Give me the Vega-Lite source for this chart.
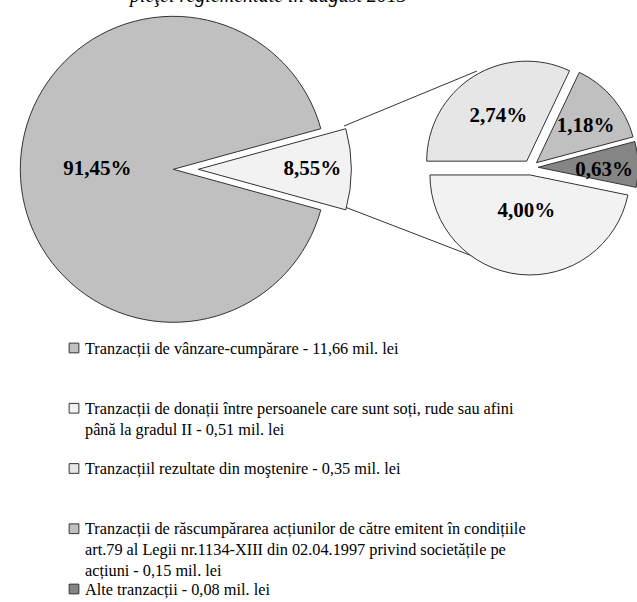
{
  "$schema": "https://vega.github.io/schema/vega-lite/v6.json",
  "width": 637,
  "height": 602,
  "padding": 0,
  "autosize": "none",
  "background": "white",
  "config": {"view": {"stroke": null}},
  "title": {
    "text": "pieţei reglementate în august 2013",
    "font": "Liberation Serif",
    "fontSize": 20,
    "fontStyle": "italic",
    "fontWeight": "normal",
    "color": "#000000",
    "anchor": "middle",
    "frame": "group",
    "dx": -50,
    "dy": 22,
    "offset": 0,
    "baseline": "alphabetic"
  },
  "data": {
    "values": [
      {"pie": "main", "slice": "vanzare", "value": 91.45, "label": "91,45%"},
      {"pie": "main", "slice": "rest", "value": 8.55, "label": "8,55%"},
      {"pie": "detail", "slice": "donatii", "value": 4.00, "label": "4,00%"},
      {"pie": "detail", "slice": "mostenire", "value": 2.74, "label": "2,74%"},
      {"pie": "detail", "slice": "rascumparare", "value": 1.18, "label": "1,18%"},
      {"pie": "detail", "slice": "alte", "value": 0.63, "label": "0,63%"}
    ]
  },
  "layer": [
    {
      "data": {"values": [{"connector": "upper"}]},
      "mark": {"type": "rule", "stroke": "#333333", "strokeWidth": 1},
      "encoding": {"x": {"value": 344}, "y": {"value": 126}, "x2": {"value": 477}, "y2": {"value": 71}}
    },
    {
      "data": {"values": [{"connector": "lower"}]},
      "mark": {"type": "rule", "stroke": "#333333", "strokeWidth": 1},
      "encoding": {"x": {"value": 345}, "y": {"value": 207}, "x2": {"value": 480}, "y2": {"value": 259}}
    },
    {
      "transform": [{"filter": "datum.pie == 'main'"}],
      "mark": {"type": "arc", "outerRadius": 153, "stroke": "#333333", "strokeWidth": 1, "xOffset": {"expr": "datum.value < 50 ? 25 : 0"}},
      "encoding": {
        "x": {"value": 173.3},
        "y": {"value": 169.3},
        "theta": {"field": "value", "type": "quantitative", "stack": true, "scale": {"domain": [0, 100], "range": [1.8394, 8.1226]}},
        "order": {"field": "value", "type": "quantitative", "sort": "descending"},
        "color": {"field": "slice", "type": "nominal", "legend": null,
          "scale": {"domain": ["vanzare", "rest", "donatii", "mostenire", "rascumparare", "alte"],
                    "range": ["#c0c0c0", "#f2f2f2", "#f2f2f2", "#e6e6e6", "#c0c0c0", "#858585"]}}
      }
    },
    {
      "transform": [{"filter": "datum.pie == 'main'"}],
      "mark": {"type": "text", "font": "Liberation Serif", "fontSize": 21, "fontWeight": "bold", "color": "#000000",
               "align": "center", "baseline": "middle",
               "radius": {"expr": "datum.value > 50 ? 76 : 114"},
               "xOffset": {"expr": "datum.value < 50 ? 25 : 0"}},
      "encoding": {
        "x": {"value": 173.3},
        "y": {"value": 169.3},
        "theta": {"field": "value", "type": "quantitative", "stack": true, "scale": {"domain": [0, 100], "range": [1.8394, 8.1226]}},
        "order": {"field": "value", "type": "quantitative", "sort": "descending"},
        "text": {"field": "label", "type": "nominal"}
      }
    },
    {
      "transform": [{"filter": "datum.pie == 'detail'"}],
      "mark": {"type": "arc", "outerRadius": 100, "stroke": "#333333", "strokeWidth": 1,
               "xOffset": {"expr": "7.5*sin(1.7729 + PI*(datum.value_start + datum.value_end)/8.55)"},
               "yOffset": {"expr": "-7.5*cos(1.7729 + PI*(datum.value_start + datum.value_end)/8.55)"}},
      "encoding": {
        "x": {"value": 530.7},
        "y": {"value": 167.5},
        "theta": {"field": "value", "type": "quantitative", "stack": true, "scale": {"domain": [0, 8.55], "range": [1.7729, 8.0561]}},
        "order": {"field": "value", "type": "quantitative", "sort": "descending"},
        "color": {"field": "slice", "type": "nominal", "legend": null,
          "scale": {"domain": ["vanzare", "rest", "donatii", "mostenire", "rascumparare", "alte"],
                    "range": ["#c0c0c0", "#f2f2f2", "#f2f2f2", "#e6e6e6", "#c0c0c0", "#858585"]}}
      }
    },
    {
      "transform": [{"filter": "datum.pie == 'detail'"}],
      "mark": {"type": "text", "font": "Liberation Serif", "fontSize": 21, "fontWeight": "bold", "color": "#000000",
               "align": "center", "baseline": "middle",
               "radius": {"expr": "datum.value == 4 ? 36 : datum.value > 2 ? 53 : datum.value > 1 ? 64 : 66"},
               "xOffset": {"expr": "7.5*sin(1.7729 + PI*(datum.value_start + datum.value_end)/8.55)"},
               "yOffset": {"expr": "-7.5*cos(1.7729 + PI*(datum.value_start + datum.value_end)/8.55) + (datum.value < 1 ? 5 : datum.value < 2 ? 4 : 0)"}},
      "encoding": {
        "x": {"value": 530.7},
        "y": {"value": 167.5},
        "theta": {"field": "value", "type": "quantitative", "stack": true, "scale": {"domain": [0, 8.55], "range": [1.7729, 8.0561]}},
        "order": {"field": "value", "type": "quantitative", "sort": "descending"},
        "text": {"field": "label", "type": "nominal"}
      }
    },
    {
      "data": {"values": [
        {"slice": "vanzare", "text": "Tranzacții de vânzare-cumpărare - 11,66 mil. lei"},
        {"slice": "donatii", "text": "Tranzacții de donații între persoanele care sunt soți, rude sau afini\npână la gradul II - 0,51  mil. lei"},
        {"slice": "mostenire", "text": "Tranzacțiil rezultate din moştenire - 0,35 mil. lei"},
        {"slice": "rascumparare", "text": "Tranzacții de răscumpărarea acțiunilor de către emitent în condițiile\nart.79 al Legii nr.1134-XIII din 02.04.1997 privind societățile pe\nacțiuni - 0,15 mil. lei"},
        {"slice": "alte", "text": "Alte tranzacții - 0,08 mil. lei"}
      ]},
      "layer": [
        {
          "mark": {"type": "point", "shape": "square", "filled": true, "size": 95, "stroke": "#333333", "strokeWidth": 1, "opacity": 1},
          "encoding": {
            "x": {"value": 74},
            "y": {"field": "slice", "type": "nominal", "axis": null,
                  "scale": {"domain": ["vanzare", "donatii", "mostenire", "rascumparare", "alte"], "range": [348, 589], "padding": 0}},
            "color": {"field": "slice", "type": "nominal", "legend": null,
              "scale": {"domain": ["vanzare", "rest", "donatii", "mostenire", "rascumparare", "alte"],
                        "range": ["#c0c0c0", "#f2f2f2", "#f2f2f2", "#e6e6e6", "#c0c0c0", "#858585"]}}
          }
        },
        {
          "mark": {"type": "text", "font": "Liberation Serif", "fontSize": 16.3, "color": "#000000",
                   "align": "left", "baseline": "alphabetic", "dy": 5.5, "lineBreak": "\n", "lineHeight": 21},
          "encoding": {
            "x": {"value": 85},
            "y": {"field": "slice", "type": "nominal", "axis": null,
                  "scale": {"domain": ["vanzare", "donatii", "mostenire", "rascumparare", "alte"], "range": [348, 589], "padding": 0}},
            "text": {"field": "text", "type": "nominal"}
          }
        }
      ]
    }
  ],
  "resolve": {"scale": {"theta": "independent"}}
}
